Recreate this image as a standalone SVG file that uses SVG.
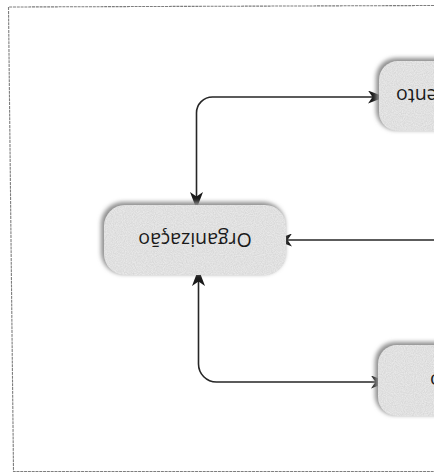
<svg xmlns="http://www.w3.org/2000/svg" width="434" height="473" viewBox="0 0 434 473">
  <defs>
    <style>
      .frame { fill: none; stroke: #7e7e7e; stroke-width: 1.1; stroke-dasharray: 3 0.8; }
      .box { fill: #e9e9e9; }
      .halo { fill: #8f8f8f; filter: url(#soft); }
      .grain { filter: url(#grain); }
      .label { font-family: "Open Sans", "Noto Sans", "Liberation Sans", sans-serif; font-size: 19.5px; fill: #1a1a1a; }
      .link { fill: none; stroke: #262626; stroke-width: 1.6; }
    </style>
    <filter id="soft" x="-20%" y="-30%" width="140%" height="160%">
      <feGaussianBlur stdDeviation="2.2"/>
    </filter>
    <filter id="grain" x="0" y="0" width="100%" height="100%">
      <feTurbulence type="fractalNoise" baseFrequency="0.9" numOctaves="2" seed="3" result="n"/>
      <feColorMatrix in="n" type="matrix" values="0 0 0 0 0.45  0 0 0 0 0.45  0 0 0 0 0.45  0 0 0 0.6 -0.12" result="g"/>
      <feComposite in="g" in2="SourceGraphic" operator="in" result="gi"/>
      <feMerge><feMergeNode in="SourceGraphic"/><feMergeNode in="gi"/></feMerge>
    </filter>
    <marker id="tip" viewBox="0 0 17 13" refX="16" refY="6.5" markerWidth="17" markerHeight="13" markerUnits="userSpaceOnUse" orient="auto-start-reverse">
      <path d="M0,0 L17,6.5 L0,13 L4.5,6.5 Z" fill="#1a1a1a"/>
    </marker>
  </defs>

  <!-- outer frame -->
  <path class="frame" d="M434,5.5 L8.5,7 L13.5,471.5 L434,471.5"/>

  <!-- connectors -->
  <g id="connectors">
    <path class="link" d="M196.5,208 L196.5,113 A16,16 0 0 1 212.5,97 L384,97" marker-start="url(#tip)" marker-end="url(#tip)"/>
    <path class="link" d="M434,240 L276,240" marker-end="url(#tip)"/>
    <path class="link" d="M198.5,270 L198.5,364 A18,18 0 0 0 216.5,382 L387,382" marker-start="url(#tip)" marker-end="url(#tip)"/>
  </g>

  <!-- upper right node (cut by the edge) -->
  <g id="node-top">
    <rect class="halo" x="376" y="58" width="110" height="72" rx="20"/>
    <rect class="box grain" x="379" y="61" width="110" height="70" rx="19"/>
    <text class="label" x="444" y="101" text-anchor="end" transform="rotate(180 420 95)">ento</text>
  </g>

  <!-- central node -->
  <g id="node-organizacao">
    <rect class="halo" x="101" y="202" width="184" height="72" rx="22"/>
    <rect class="box grain" x="104" y="205" width="182" height="70" rx="21"/>
    <text class="label" x="195" y="247" text-anchor="middle" transform="rotate(180 195 240)">Organização</text>
  </g>

  <!-- lower right node (cut by the edge) -->
  <g id="node-bottom">
    <rect class="halo" x="375" y="342" width="110" height="73" rx="20"/>
    <rect class="box grain" x="378" y="345" width="110" height="71" rx="19"/>
    <text class="label" x="410" y="386" text-anchor="end" transform="rotate(180 420 380)">o</text>
  </g>
</svg>
